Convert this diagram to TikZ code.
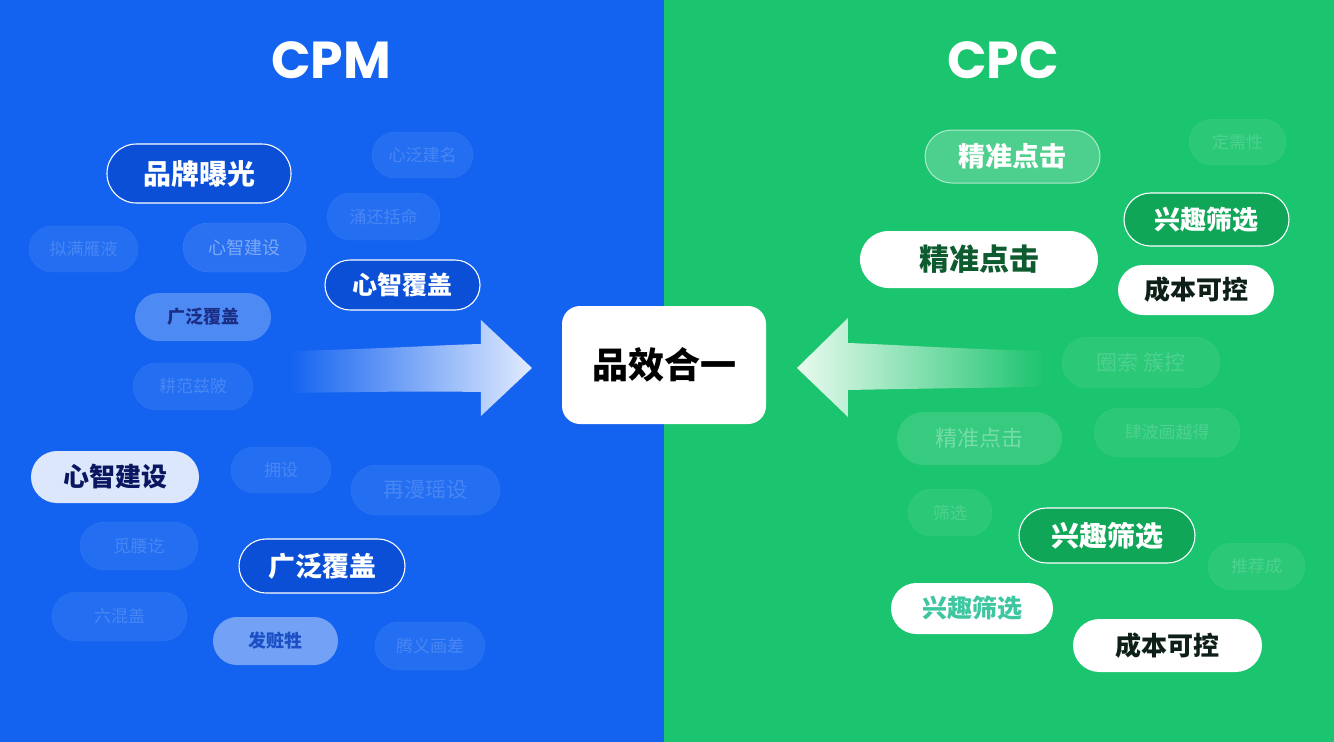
\documentclass[tikz,border=0pt]{standalone}
\usepackage{fontspec}
\newfontfamily\cjk{Noto Sans CJK SC}
\newfontfamily\latinb{Poppins}
\usetikzlibrary{shapes.misc,fadings}
\definecolor{bluebg}{HTML}{1463F0}
\definecolor{bluedark}{HTML}{0A4FD6}
\definecolor{greenbg}{HTML}{1BC46E}
\definecolor{greendark}{HTML}{0FA658}
\definecolor{navy}{HTML}{0A1760}
\definecolor{midnavy}{HTML}{1B2E86}
\definecolor{midblue}{HTML}{1C4FC4}
\definecolor{lightpill}{HTML}{DCE7FC}
\definecolor{deepgreen}{HTML}{0E5B2F}
\definecolor{teal}{HTML}{3DC6A0}
\definecolor{inkdark}{HTML}{0D1F16}
\definecolor{arrowL}{HTML}{E2ECFF}
\definecolor{arrowR}{HTML}{EAFBF0}
\newcommand\fs[1]{\fontsize{#1}{#1}\selectfont}
\newcommand\pillnode[7]{\node[#2, minimum width=#5pt, minimum height=#6pt] (#1) at (#3,#4) {#7};}
\tikzfading[name=fadeR, left color=transparent!100, middle color=transparent!70, right color=transparent!0]
\tikzfading[name=fadeL, left color=transparent!0, middle color=transparent!70, right color=transparent!100]
\tikzset{
  pill/.style={rounded rectangle, inner sep=0pt},
  strongB/.style={pill, fill=bluedark, draw=white, line width=1.1pt, text=white},
  strongG/.style={pill, fill=greendark, draw=white, line width=1.1pt, text=white},
  faint/.style={pill, fill=white, fill opacity=0.07, draw=white, draw opacity=0.08, text=white, text opacity=0.17},
  faintplus/.style={pill, fill=white, fill opacity=0.09, draw=white, draw opacity=0.12, text=white, text opacity=0.4},
  whitepill/.style={pill, fill=white},
  title/.style={text=white, font=\latinb\bfseries\fs{52}}
}
\begin{document}
\begin{tikzpicture}[x=1pt,y=-1pt]
\useasboundingbox (0,0) rectangle (1334,742);
\fill[bluebg] (0,0) rectangle (664,742);
\fill[greenbg] (664,0) rectangle (1334,742);

% titles
\node[title] (tcpm) at (331,60) {CPM};
\node[title] (tcpc) at (1003,60) {CPC};

% arrows
\fill[arrowL, path fading=fadeR] (290,351) .. controls (380,349) and (440,345) .. (481,344) -- (481,320) -- (532,368) -- (481,416) -- (481,392) .. controls (420,391) and (360,392) .. (290,393) -- cycle;
\fill[arrowR, path fading=fadeL] (797,368) -- (848,318) -- (848,343) .. controls (900,345) and (960,349) .. (1045,351) -- (1045,387) .. controls (960,388) and (900,389) .. (848,390) -- (848,417) -- cycle;

% center box
\node[fill=white, rounded corners=18pt, minimum width=204pt, minimum height=118pt, inner sep=0pt, font=\cjk\bfseries\fs{36}, text=black] (core) at (664,365) {品效合一};

% left side pills
\pillnode{f1}{faint, font=\cjk\fs{17}}{422.5}{155}{101}{46}{心泛建名}
\pillnode{f2}{faint, font=\cjk\fs{17}}{383.5}{216.5}{113}{47}{涌还括命}
\pillnode{f3}{faint, font=\cjk\fs{17}}{83.5}{249}{109}{46}{拟满雁液}
\pillnode{f4}{faintplus, font=\cjk\fs{18}}{244.5}{247.5}{123}{49}{心智建设}
\pillnode{f5}{faint, font=\cjk\fs{17}}{193}{386.5}{120}{47}{耕范兹陂}
\pillnode{f6}{faint, font=\cjk\fs{17}}{281}{470}{100}{46}{拥设}
\pillnode{f7}{faint, font=\cjk\fs{21}}{425.5}{490}{149}{50}{再漫瑶设}
\pillnode{f8}{faint, font=\cjk\fs{17}}{139}{546}{118}{48}{觅腰讫}
\pillnode{f9}{faint, font=\cjk\fs{17}}{119.5}{616.5}{135}{49}{六混盖}
\pillnode{f10}{faint, font=\cjk\fs{17}}{430}{646}{110}{48}{腾义画差}

\pillnode{m1}{pill, fill=white, fill opacity=0.25, text=midnavy, text opacity=1, font=\cjk\bfseries\fs{18}}{203}{317}{136}{48}{广泛覆盖}
\pillnode{m2}{pill, fill=white, fill opacity=0.4, text=midblue, text opacity=1, font=\cjk\bfseries\fs{18}}{275.5}{641}{125}{48}{发赃牲}

\pillnode{b1}{strongB, font=\cjk\bfseries\fs{28}}{199}{173.5}{184}{59}{品牌曝光}
\pillnode{b2}{strongB, font=\cjk\bfseries\fs{25}}{402.5}{285}{155}{50}{心智覆盖}
\pillnode{b3}{strongB, font=\cjk\bfseries\fs{27}}{322}{566}{166}{54}{广泛覆盖}
\pillnode{L1}{pill, fill=lightpill, text=navy, font=\cjk\bfseries\fs{26}}{115}{477}{168}{52}{心智建设}

% right side pills
\pillnode{rf1}{faint, font=\cjk\fs{17}}{1237.5}{142}{97}{46}{定需性}
\pillnode{rf2}{faint, font=\cjk\fs{21}}{1141}{362.5}{158}{51}{圈索 簇控}
\pillnode{rf3}{pill, fill=white, fill opacity=0.12, text=white, text opacity=0.32, font=\cjk\fs{22}}{979.5}{438.5}{165}{53}{精准点击}
\pillnode{rf4}{faint, font=\cjk\fs{17}}{1167}{432.5}{146}{49}{肆波画越得}
\pillnode{rf5}{faint, font=\cjk\fs{17}}{950}{512.5}{84}{47}{筛选}
\pillnode{rf6}{faint, font=\cjk\fs{17}}{1256.5}{566.5}{97}{47}{推荐成}

\pillnode{r1}{pill, fill=white, fill opacity=0.22, draw=white, draw opacity=0.6, line width=1pt, text=white, text opacity=1, font=\cjk\bfseries\fs{27}}{1012.5}{156.5}{175}{53}{精准点击}
\pillnode{r2}{strongG, font=\cjk\bfseries\fs{26}}{1206.5}{219.5}{165}{53}{兴趣筛选}
\pillnode{r3}{whitepill, text=deepgreen, font=\cjk\bfseries\fs{30}}{979}{259.5}{238}{57}{精准点击}
\pillnode{r4}{whitepill, text=inkdark, font=\cjk\bfseries\fs{26}}{1196}{290}{156}{50}{成本可控}
\pillnode{r5}{strongG, font=\cjk\bfseries\fs{28}}{1107}{535.5}{176}{55}{兴趣筛选}
\pillnode{r6}{whitepill, text=teal, font=\cjk\bfseries\fs{25}}{972}{608.5}{162}{51}{兴趣筛选}
\pillnode{r7}{whitepill, text=inkdark, font=\cjk\bfseries\fs{26}}{1167.5}{645.5}{189}{53}{成本可控}
\end{tikzpicture}
\end{document}
